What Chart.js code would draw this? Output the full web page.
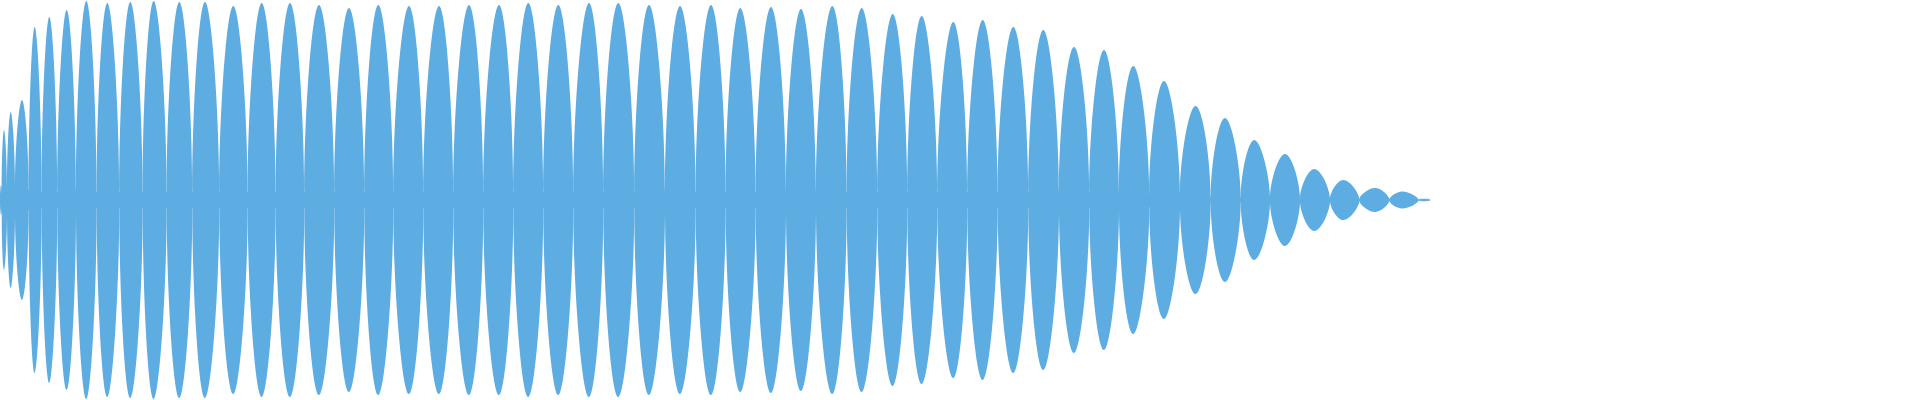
<!DOCTYPE html>
<html>
<head>
<meta charset="utf-8">
<title>Forma de onda</title>
<script src="https://cdn.jsdelivr.net/npm/chart.js@4/dist/chart.umd.min.js"></script>
<style>
    html, body { margin: 0; padding: 0; background: #ffffff; }
    #wave { display: block; }
</style>
</head>
<body>
<canvas id="wave" width="1920" height="400"></canvas>
<script>
// Instantes (ms) en los que la envolvente cruza por cero, uno por borde de lóbulo
const crossings = [0, 1.7, 7, 15, 28.7, 41.7, 57.3, 76, 96.7, 119.3, 142.7, 166.7, 192.3,
    219.3, 247.7, 275.7, 304.3, 334.3, 364.3, 393.3, 423.3, 453.3, 483.3, 513.3, 543.3,
    573.3, 603.3, 634.3, 665, 695.7, 725.7, 755.7, 786, 816, 846.7, 877.3, 907.3, 937.3,
    967.3, 997.7, 1028.3, 1059, 1089.3, 1119, 1149.3, 1180, 1210.7, 1240.7, 1270, 1300,
    1330, 1359.3, 1389.3, 1418.3, 1430];

// Amplitud residual en cada cruce (grosor de la franja central)
const troughs = [0, 0.06, 0.065, 0.065, 0.05, 0.04, 0.04, 0.04, 0.04, 0.04, 0.04, 0.04, 0.04,
    0.037, 0.037, 0.037, 0.037, 0.037, 0.037, 0.037, 0.037, 0.037, 0.037, 0.037, 0.037,
    0.037, 0.037, 0.037, 0.037, 0.037, 0.037, 0.037, 0.037, 0.037, 0.037, 0.037, 0.037, 0.037,
    0.037, 0.037, 0.037, 0.037, 0.037, 0.037, 0.035, 0.03, 0.015, 0.012, 0.01, 0.008,
    0.006, 0.005, 0.004, 0.004, 0.004];

// Posición (ms) y amplitud del máximo de cada lóbulo
const peakTimes = [0.8, 4, 10.7, 22, 34.7, 49.3, 66.7, 86.3, 107.3, 130.3, 153.7, 179.3,
    205, 233.3, 261.7, 290, 319, 349, 378.3, 409, 439, 469, 499, 528.3, 558.3, 589, 618.3,
    649, 680, 711, 740.3, 771, 801, 832.3, 861.7, 892.7, 921.7, 953.3, 982.7, 1013.3,
    1043.3, 1074, 1104, 1133.3, 1164, 1195.7, 1225, 1254.3, 1285, 1314.3, 1343.3, 1375,
    1402.3, 1424];
const peakAmps = [0.075, 0.35, 0.44, 0.5, 0.865, 0.915, 0.95, 0.995, 0.985, 0.99, 0.995, 0.99,
    0.99, 0.97, 0.985, 0.985, 0.975, 0.96, 0.975, 0.97, 0.97, 0.975, 0.975, 0.985, 0.975,
    0.985, 0.985, 0.975, 0.97, 0.975, 0.96, 0.965, 0.955, 0.97, 0.96, 0.93, 0.92, 0.89,
    0.9, 0.865, 0.85, 0.765, 0.75, 0.67, 0.595, 0.47, 0.41, 0.3, 0.23, 0.155, 0.1, 0.06,
    0.043, 0.006];

// Duración visible del eje (ms)
const viewLength = 1920;

const waveColor = '#5DADE2';

// Cada lóbulo es una figura cerrada: parte del eje central bajo su máximo, va al
// cruce, sube al máximo, baja al siguiente cruce y vuelve. Al estar el punto de
// partida justo debajo del máximo, la curva sale vertical desde cada cruce.
function buildLobes(sign) {
    const points = [];
    for (let i = 0; i < peakAmps.length; i++) {
        points.push({ x: peakTimes[i], y: 0 });
        points.push({ x: crossings[i], y: sign * troughs[i] });
        points.push({ x: peakTimes[i], y: sign * peakAmps[i] });
        points.push({ x: crossings[i + 1], y: sign * troughs[i + 1] });
        points.push({ x: peakTimes[i], y: 0 });
        points.push({ x: peakTimes[i], y: null });
    }
    return points;
}

// Franja central que une los lóbulos
function buildBand(sign) {
    return crossings.map((x, i) => ({ x: x, y: sign * troughs[i] }));
}

const baseStyle = {
    backgroundColor: waveColor,
    borderColor: waveColor,
    borderWidth: 0,
    pointRadius: 0,
    spanGaps: false
};

new Chart(document.getElementById('wave').getContext('2d'), {
    type: 'line',
    data: {
        datasets: [
            { label: 'Máx', data: buildLobes(1), ...baseStyle, tension: 0.45, fill: 'shape' },
            { label: 'Mín', data: buildLobes(-1), ...baseStyle, tension: 0.45, fill: 'shape' },
            { label: 'Banda sup', data: buildBand(1), ...baseStyle, tension: 0, fill: 'origin' },
            { label: 'Banda inf', data: buildBand(-1), ...baseStyle, tension: 0, fill: 'origin' }
        ]
    },
    options: {
        responsive: false,
        animation: false,
        devicePixelRatio: 1,
        layout: { padding: 0 },
        plugins: {
            legend: { display: false },
            tooltip: { enabled: false }
        },
        scales: {
            x: { type: 'linear', min: 0, max: viewLength, display: false },
            y: { min: -1, max: 1, display: false }
        }
    }
});
</script>
</body>
</html>
